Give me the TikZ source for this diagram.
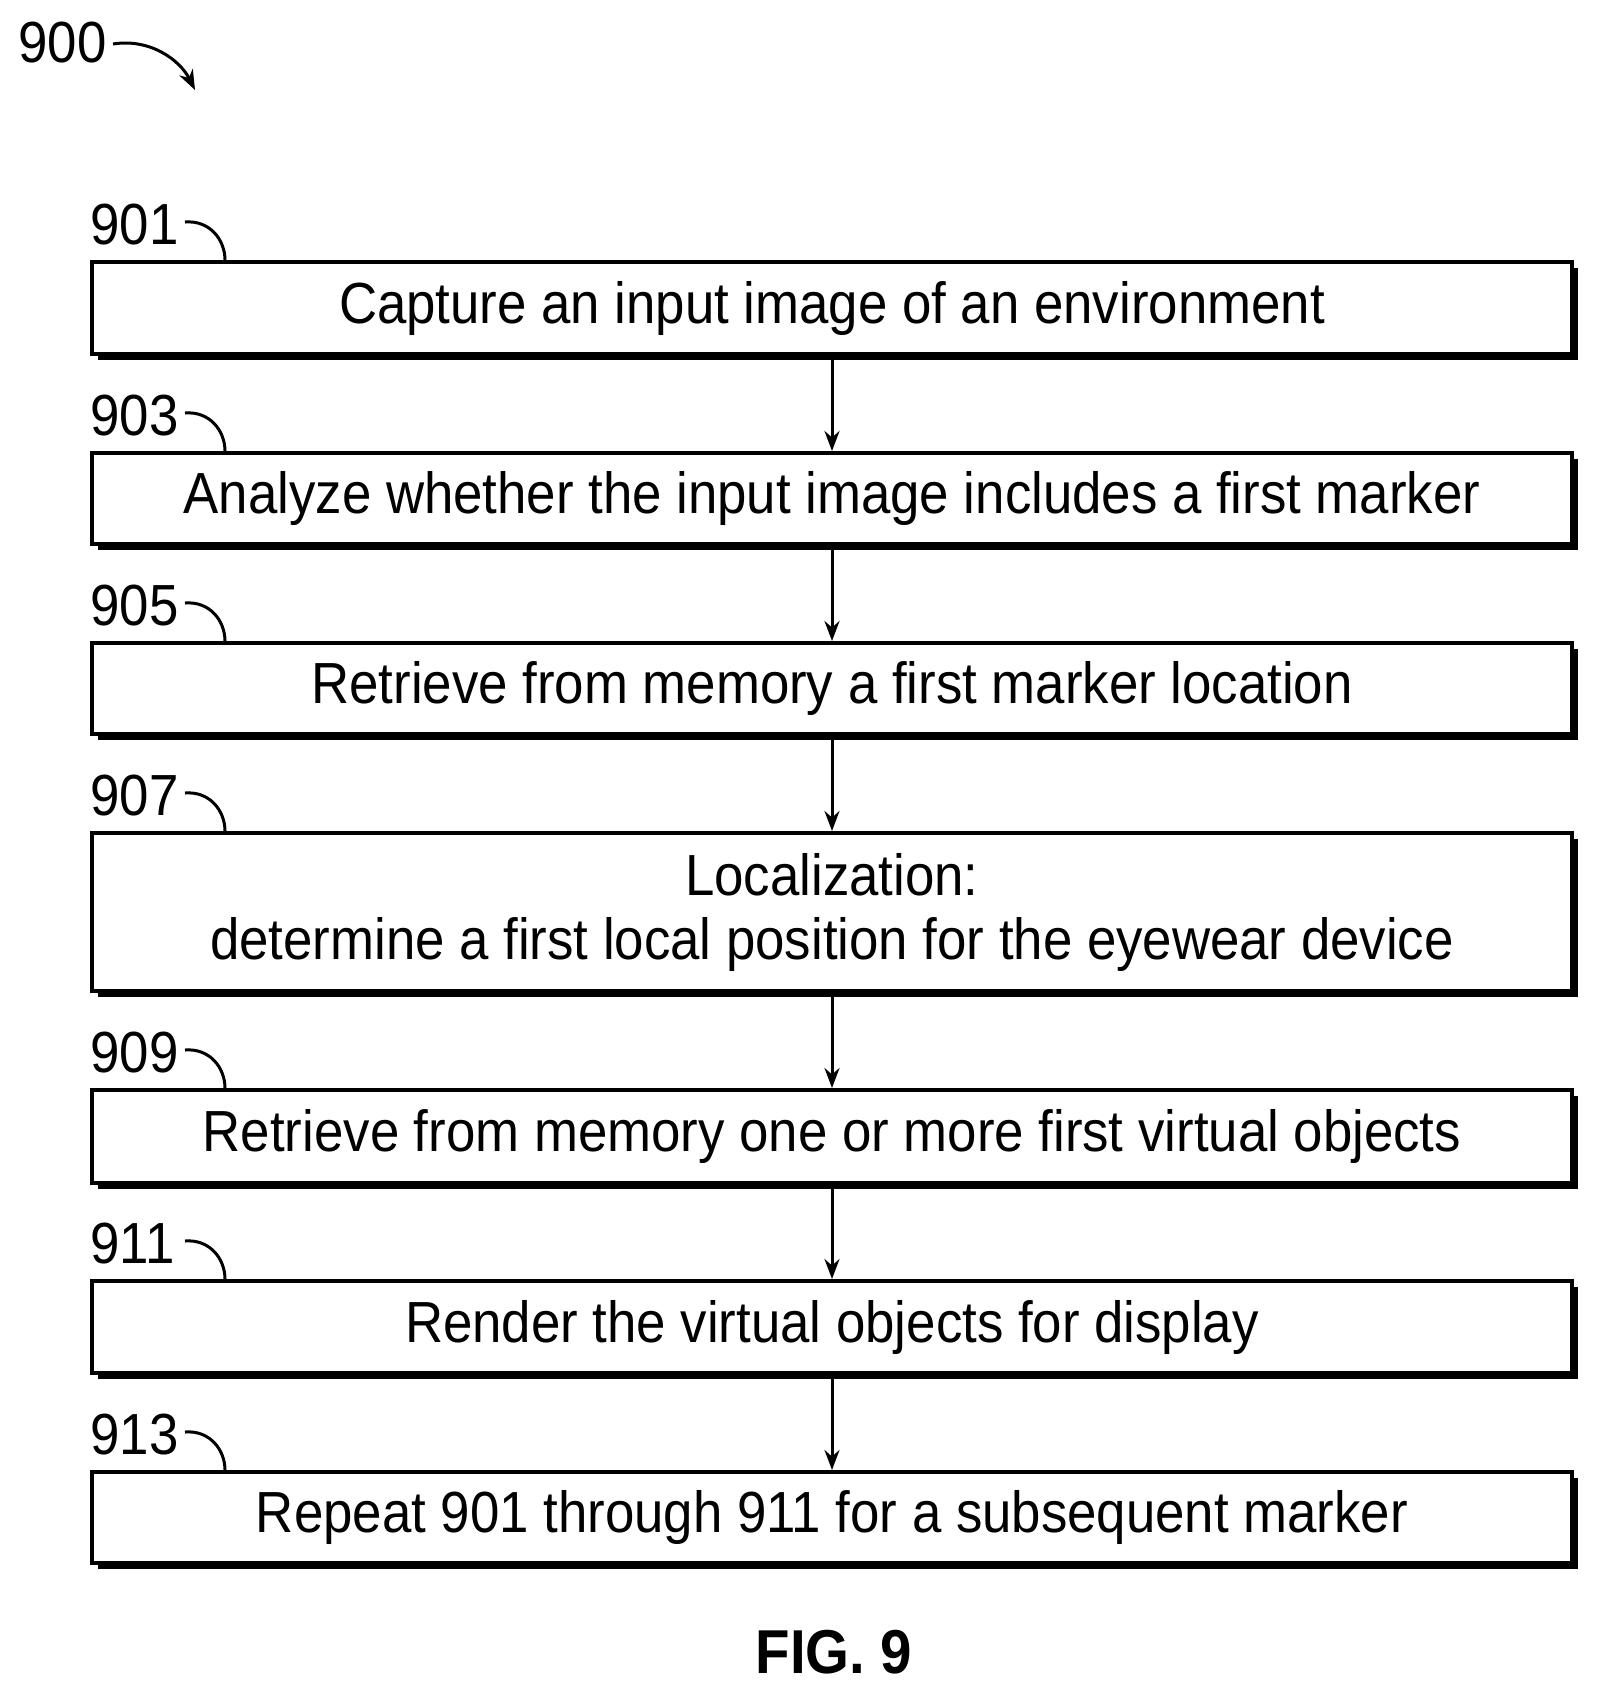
\documentclass[tikz,border=0pt]{standalone}
\usepackage{fontspec}
\setmainfont{Liberation Sans}[FakeStretch=0.91]
\usetikzlibrary{arrows.meta}
\begin{document}
\begin{tikzpicture}[x=0.5pt,y=-0.5pt,
  stepbox/.style={draw,line width=2pt,fill=white,minimum width=740pt,anchor=north west,inner sep=0pt,align=center,font=\fontsize{29}{32}\selectfont},
  reflab/.style={font=\fontsize{29}{34}\selectfont,anchor=base west,inner sep=0pt},
  hook/.style={line width=1.5pt}]
\useasboundingbox (0,0) rectangle (1598,1699);
\node[font=\fontsize{29}{34}\selectfont,anchor=base west,inner sep=0pt] (l900) at (18,62) {900};
\coordinate (a900) at (195,90);
\draw[hook,-{Stealth[length=10pt]}] (113,44) .. controls (150,38) and (180,60) .. (a900);
\def\mkbox#1#2#3#4{%
  \fill[black] (98,#2+8) rectangle (1578,#3+8);
  \node[stepbox,minimum height=#3*0.5pt-#2*0.5pt] (#1) at (90,#2) {#4};
  \node[reflab] (l#1) at (90,#2-16) {#1};
  \draw[hook] (185,#2-38) .. controls (210,#2-40) and (225,#2-20) .. (225,#2);
}
\mkbox{901}{260}{352}{Capture an input image of an environment}
\mkbox{903}{451}{542}{Analyze whether the input image includes a first marker}
\mkbox{905}{641}{732}{Retrieve from memory a first marker location}
\mkbox{907}{831}{989}{Localization:\\determine a first local position for the eyewear device}
\mkbox{909}{1088}{1181}{Retrieve from memory one or more first virtual objects}
\mkbox{911}{1279}{1371}{Render the virtual objects for display}
\mkbox{913}{1470}{1561}{Repeat 901 through 911 for a subsequent marker}
\foreach \a/\b in {901/903,903/905,905/907,907/909,909/911,911/913}
  \draw[line width=1.5pt,-{Stealth[length=10pt]}] (\a.south) -- (\b.north);
\node[font=\bfseries\fontsize{31}{36}\selectfont,anchor=base] (fig) at (834,1673) {FIG. 9};
\end{tikzpicture}
\end{document}
